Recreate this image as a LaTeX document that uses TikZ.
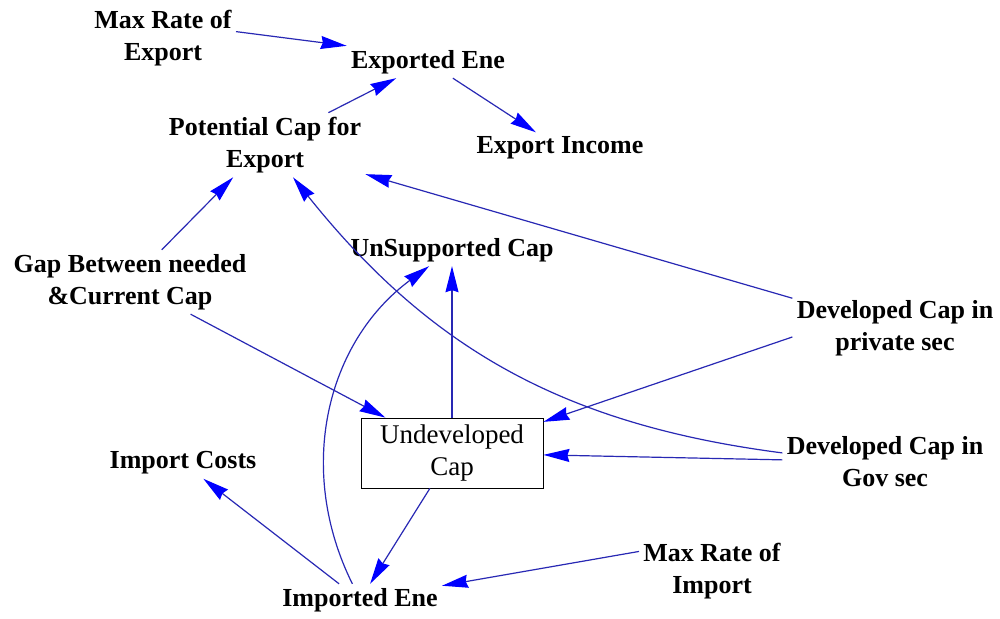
\documentclass[tikz,border=0pt]{standalone}
\usepackage{fontspec}
\setmainfont{Liberation Serif}
\usetikzlibrary{positioning,arrows.meta}
\definecolor{linkblue}{RGB}{40,40,180}
\definecolor{headblue}{RGB}{0,0,255}

\begin{document}
\begin{tikzpicture}[x=0.5pt,y=0.5pt,
                    >={Stealth[length=13pt,width=6.5pt,inset=1pt,color=headblue]},
                    var node/.style={align=center,inner sep=2pt,font=\fontsize{13pt}{16pt}\selectfont\bfseries},
                    level node/.style={draw,thin,align=center,minimum width=91pt,minimum height=35pt,
                                       font=\fontsize{13.5pt}{16pt}\selectfont},
                    link/.style={draw=linkblue,line width=0.6pt,->}]
    \useasboundingbox[fill=white] (0,0) rectangle (1000,-619);

    \node[var node] (maxexp) at (163,-38) {Max Rate of\\Export};
    \node[var node] (expene) at (428,-62) {Exported Ene};
    \node[var node] (potcap) at (265,-145) {Potential Cap for\\Export};
    \node[var node] (expinc) at (560,-148) {Export Income};
    \node[var node] (unsup) at (452,-250) {UnSupported Cap};
    \node[var node] (gap) at (130,-282) {Gap Between needed\\\&Current Cap};
    \node[var node] (devpriv) at (895,-328) {Developed Cap in\\private sec};
    \node[level node] (undev) at (452,-453) {Undeveloped\\Cap};
    \node[var node] (devgov) at (885,-462) {Developed Cap in\\Gov sec};
    \node[var node] (impcost) at (183,-463) {Import Costs};
    \node[var node] (maximp) at (712,-571) {Max Rate of\\Import};
    \node[var node] (impene) at (360,-600) {Imported Ene};

    \path[every edge/.style={link}]
    (maxexp.5)  edge (expene.north west)
    (potcap)    edge (expene)
    (expene)    edge (expinc)
    (gap)       edge (potcap)
                edge (undev)
    (devpriv)   edge (potcap)
    (devpriv.185) edge (undev)
    (devgov)    edge[bend left=22] (potcap)
                edge (undev)
    (undev)     edge (unsup)
                edge (impene)
    (impene)    edge[bend left=40] (unsup)
                edge (impcost)
    (maximp.165) edge (impene);
\end{tikzpicture}
\end{document}
